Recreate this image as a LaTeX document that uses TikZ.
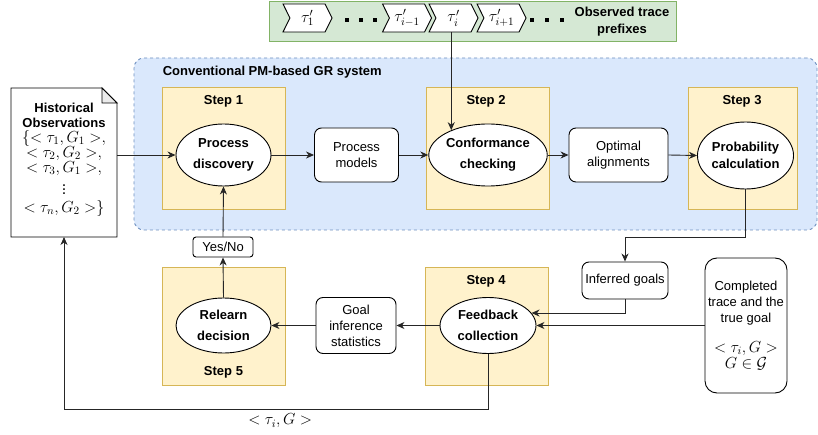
\RequirePackage{fix-cm}
\documentclass[tikz,border=0pt]{standalone}
\usepackage{amsmath,amssymb}
\usepackage[no-math]{fontspec}
\setmainfont{Liberation Sans}
\usepackage{xcolor}
\usetikzlibrary{arrows.meta,shapes.geometric,shapes.symbols,calc}

\definecolor{bluefill}{HTML}{DAE8FC}
\definecolor{blueline}{HTML}{6C8EBF}
\definecolor{yellowfill}{HTML}{FFF2CC}
\definecolor{yellowline}{HTML}{D6B656}
\definecolor{greenfill}{HTML}{D5E8D4}
\definecolor{greenline}{HTML}{82B366}

% formulas are set a bit larger than the text around them
\newcommand{\bigmath}[1]{{\fontsize{16}{15}\selectfont$#1$}}

\begin{document}
\begin{tikzpicture}[x=1pt,y=-1pt,line width=0.9pt,
  font=\fontsize{13}{16}\selectfont,
  arr/.style={draw=black!85,-{Stealth[length=8pt,width=7pt,inset=2.5pt]}},
  stagebox/.style={draw=yellowline,fill=yellowfill,inner sep=0pt,minimum width=123,minimum height=122},
  steplabel/.style={font=\bfseries\fontsize{13}{16}\selectfont},
  ell/.style={ellipse,draw,fill=white,inner sep=0pt,align=center,font=\bfseries\fontsize{13}{21}\selectfont},
  rbox/.style={draw,fill=white,rounded corners=7pt,inner sep=0pt,align=center},
  chev/.style={signal,signal to=east,signal from=west,signal pointer angle=127,
    draw,fill=white,minimum height=28,minimum width=49,inner sep=0pt}]
\useasboundingbox (0,0) rectangle (818,435);

% observed prefixes on top
\node[draw=greenline,fill=greenfill,minimum width=407,minimum height=40,inner sep=0pt] (bar) at (472.5,21) {};
\node[chev] (t1) at (307.5,18) {\bigmath{\tau'_1}};
\node[chev] (tprev) at (407,18) {\bigmath{\tau'_{i-1}}};
\node[chev] (ti) at (453.5,18) {\bigmath{\tau'_i}};
\node[chev] (tnext) at (501.5,18) {\bigmath{\tau'_{i+1}}};
\foreach \x in {347,361,375,532,547,562}
  \fill (\x-1.8,18.2) rectangle ++(3.6,3.6);
\node[align=center,font=\bfseries\fontsize{13}{17}\selectfont] (obs) at (622,22) {Observed trace\\prefixes};

% the conventional system
\node[draw=blueline,dashed,fill=bluefill,rounded corners=10pt,minimum width=683,minimum height=172,inner sep=0pt] (sys) at (475.5,144) {};
\node[anchor=west,font=\bfseries\fontsize{13}{16}\selectfont] (systitle) at (159,72) {Conventional PM-based GR system};

\node[stagebox] (s1) at (223.5,148) {};
\node[stagebox] (s2) at (487.5,148) {};
\node[stagebox,minimum width=109] (s3) at (742.5,148) {};
\node[stagebox,minimum height=118] (s4) at (487,326) {};
\node[stagebox,minimum height=118] (s5) at (223.5,326) {};
\node[steplabel] (l1) at (223.5,101) {Step 1};
\node[steplabel] (l2) at (486,101) {Step 2};
\node[steplabel] (l3) at (742,101) {Step 3};
\node[steplabel] (l4) at (486,281) {Step 4};
\node[steplabel] (l5) at (223.5,372) {Step 5};

\node[ell,minimum width=95,minimum height=62] (pd) at (223.5,155) {Process\\discovery};
\node[rbox,minimum width=84,minimum height=54] (pm) at (356.5,155) {Process\\models};
\node[ell,minimum width=94,minimum height=62] (cc) at (488,155) {Conformance\\checking};
\node[rbox,minimum width=99,minimum height=54] (oa) at (618.5,155) {Optimal\\alignments};
\node[ell,minimum width=85,minimum height=67,font=\bfseries\fontsize{13}{17}\selectfont] (pc) at (745.5,155.5) {Probability\\calculation};

% feedback loop
\node[rbox,minimum width=86,minimum height=37] (ig) at (625,280.5) {Inferred goals};
\node[rbox,rounded corners=12pt,minimum width=82,minimum height=135] (ct) at (746,325.5)
  {Completed\\trace and the\\true goal\\[14pt]\bigmath{<\tau_i, G>}\\\bigmath{G\in\mathcal{G}}};
\node[ell,minimum width=96,minimum height=56] (fc) at (488,325.5) {Feedback\\collection};
\node[rbox,minimum width=80,minimum height=56] (gs) at (356,325.5) {Goal\\inference\\statistics};
\node[ell,minimum width=95,minimum height=55] (rd) at (223.5,325.5) {Relearn\\decision};
\node[rbox,rounded corners=3pt,minimum width=60,minimum height=20] (yn) at (223,247) {Yes/No};

% historical observations (note with folded corner)
\draw[fill=white] (11,88) -- (102,88) -- (117,103) -- (117,237) -- (11,237) -- cycle;
\draw[fill=black!8] (102,88) -- (102,103) -- (117,103) -- cycle;
\node[align=center,minimum width=106,minimum height=149,inner sep=0pt,font=\fontsize{13}{15}\selectfont] (hist) at (64,159.5)
  {\textbf{Historical}\\\textbf{Observations}\\\bigmath{\{<\tau_1, G_1>,}\\\bigmath{<\tau_2, G_2>,}\\\bigmath{<\tau_3, G_1>,}\\[2pt]\bigmath{\vdots}\\[3pt]\bigmath{<\tau_n, G_2>\}}};

% connectors
\draw[arr] (hist.east |- pd.west) -- (pd.west);
\draw[arr] (pd.east) -- (pm.west);
\draw[arr] (pm.east) -- (cc.west);
\draw[arr] (cc.east) -- (oa.west);
\draw[arr] (oa.east) -- (pc.west);
\draw[arr] (cc.146 |- ti.south) -- (cc.146);
\draw[arr] (pc.south) -- ++(0,48) -| (ig.north);
\draw[arr] (ig.south) |- (fc.16);
\draw[arr] (ct.west) -- (fc.east);
\draw[arr] (fc.west) -- (gs.east);
\draw[arr] (gs.west) -- (rd.east);
\draw[arr] (rd.north) -- (yn.south);
\draw[arr] (yn.north) -- (pd.south);
\draw[arr] (fc.south) -- ++(0,55) -| node[pos=0.245,below=1pt] {\bigmath{<\tau_i, G>}} (hist.south |- 0,237);
\end{tikzpicture}
\end{document}
